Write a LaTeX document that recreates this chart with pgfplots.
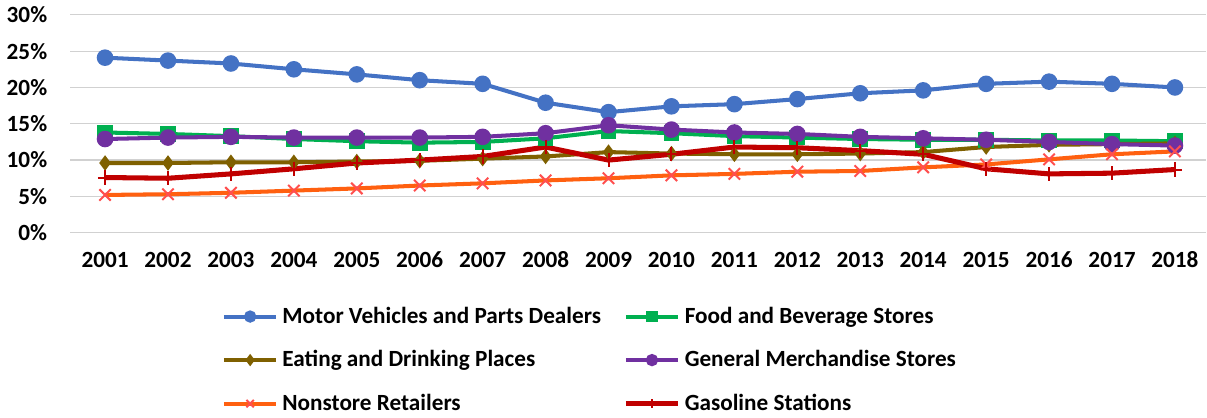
\documentclass[border=0pt]{standalone}
\usepackage{pgfplots}
\pgfplotsset{compat=1.18}
\usepackage{fontspec}
\setmainfont{Carlito}
\definecolor{cblue}{HTML}{4472C4}
\definecolor{cgreen}{HTML}{00B050}
\definecolor{colive}{HTML}{7F6000}
\definecolor{cpurple}{HTML}{7030A0}
\definecolor{corange}{HTML}{FF6010}
\definecolor{cxmark}{HTML}{FF4F4F}
\definecolor{cred}{HTML}{C00000}
\begin{document}
\begin{tikzpicture}
\begin{axis}[
  scale only axis,
  width=563pt, height=108pt,
  xmin=2000.45, xmax=2018.5,
  ymin=0, ymax=30,
  xtick={2001,2002,2003,2004,2005,2006,2007,2008,2009,2010,2011,2012,2013,2014,2015,2016,2017,2018},
  xticklabels={2001,2002,2003,2004,2005,2006,2007,2008,2009,2010,2011,2012,2013,2014,2015,2016,2017,2018},
  ytick={0,5,10,15,20,25,30},
  yticklabels={0\%,5\%,10\%,15\%,20\%,25\%,30\%},
  ymajorgrids,
  grid style={draw=black!18, line width=0.6pt},
  axis line style={draw=none},
  major tick length=0pt,
  tick label style={font=\fontsize{11.5}{13}\selectfont\bfseries},
  xticklabel style={yshift=-6pt},
  yticklabel style={xshift=-8pt},
  legend style={at={(0.133,-0.32)}, anchor=north west, draw=none, fill=none,
    font=\fontsize{11.5}{13}\selectfont\bfseries,
    /tikz/every even column/.append style={column sep=9pt},
    row sep=8pt, inner sep=0pt},
  legend columns=2,
  legend cell align=left,
  legend image code/.code={
    \draw[#1, /tikz/every mark/.append style={scale=0.65}, mark repeat=2, mark phase=2] plot coordinates {(0pt,0pt) (13pt,0pt) (26pt,0pt)};
  },
  every axis plot/.append style={line width=2pt},
]
\addplot[color=cblue, mark=*, mark size=3.1pt, mark options={fill=cblue}] coordinates {
(2001,24.1) (2002,23.7) (2003,23.3) (2004,22.5) (2005,21.8) (2006,21.0) (2007,20.5) (2008,17.9) (2009,16.6)
(2010,17.4) (2011,17.7) (2012,18.4) (2013,19.2) (2014,19.6) (2015,20.5) (2016,20.8) (2017,20.5) (2018,20.0)};
\addlegendentry{Motor Vehicles and Parts Dealers}
\addplot[color=cgreen, mark=square*, mark size=2.9pt, mark options={fill=cgreen}] coordinates {
(2001,13.8) (2002,13.6) (2003,13.3) (2004,12.9) (2005,12.6) (2006,12.4) (2007,12.5) (2008,13.0) (2009,14.0)
(2010,13.7) (2011,13.3) (2012,13.1) (2013,12.9) (2014,12.8) (2015,12.8) (2016,12.7) (2017,12.7) (2018,12.6)};
\addlegendentry{Food and Beverage Stores}
\addplot[color=colive, mark=diamond*, mark size=2.2pt, mark options={fill=colive}] coordinates {
(2001,9.6) (2002,9.6) (2003,9.7) (2004,9.7) (2005,9.8) (2006,9.9) (2007,10.2) (2008,10.5) (2009,11.1)
(2010,10.9) (2011,10.8) (2012,10.8) (2013,10.9) (2014,11.1) (2015,11.8) (2016,12.1) (2017,12.2) (2018,12.3)};
\addlegendentry{Eating and Drinking Places}
\addplot[color=cpurple, mark=*, mark size=3.1pt, mark options={fill=cpurple}] coordinates {
(2001,12.9) (2002,13.1) (2003,13.2) (2004,13.1) (2005,13.1) (2006,13.1) (2007,13.2) (2008,13.7) (2009,14.8)
(2010,14.2) (2011,13.8) (2012,13.6) (2013,13.2) (2014,13.0) (2015,12.8) (2016,12.5) (2017,12.2) (2018,12.0)};
\addlegendentry{General Merchandise Stores}
\addplot[color=corange, mark=x, mark size=4pt, mark options={draw=cxmark, line width=1pt}] coordinates {
(2001,5.2) (2002,5.3) (2003,5.5) (2004,5.8) (2005,6.1) (2006,6.5) (2007,6.8) (2008,7.2) (2009,7.5)
(2010,7.9) (2011,8.1) (2012,8.4) (2013,8.5) (2014,9.0) (2015,9.4) (2016,10.1) (2017,10.8) (2018,11.2)};
\addlegendentry{Nonstore Retailers}
\addplot[color=cred, line width=2.5pt, mark=+, mark size=3.5pt, mark options={line width=1pt}] coordinates {
(2001,7.6) (2002,7.5) (2003,8.1) (2004,8.8) (2005,9.6) (2006,10.0) (2007,10.5) (2008,11.8) (2009,10.0)
(2010,10.8) (2011,11.8) (2012,11.7) (2013,11.3) (2014,10.8) (2015,8.8) (2016,8.1) (2017,8.2) (2018,8.7)};
\addlegendentry{Gasoline Stations}
\end{axis}
\end{tikzpicture}
\end{document}
